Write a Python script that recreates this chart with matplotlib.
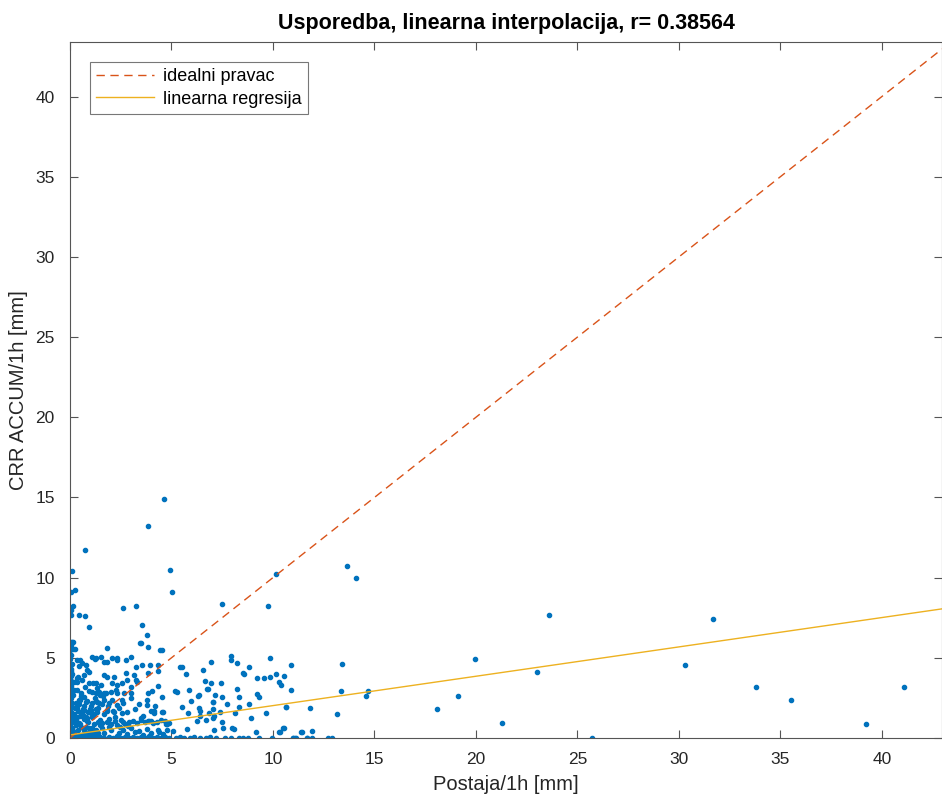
import matplotlib
matplotlib.use("Agg")
import matplotlib.pyplot as plt
import numpy as np

plt.rcParams['font.family'] = ['Liberation Sans', 'DejaVu Sans']

# sparse points, far from the cluster
far_x = [4.65, 3.84, 0.74, 4.94, 5.04, 10.15, 13.65, 14.1, 7.47, 9.74, 2.63, 3.25,
         23.6, 31.7, 19.95, 30.3, 13.4, 33.8, 35.5, 41.1, 39.2, 23.0, 19.1, 18.1, 21.3,
         25.7, 10.9, 13.35, 14.7, 14.6, 11.8, 13.15, 11.4, 11.9, 10.9]
far_y = [14.9, 13.2, 11.7, 10.5, 9.1, 10.2, 10.7, 10.0, 8.36, 8.2, 8.1, 8.2,
         7.67, 7.4, 4.9, 4.55, 4.6, 3.2, 2.4, 3.2, 0.87, 4.1, 2.6, 1.8, 0.94,
         0.0, 4.55, 2.9, 2.9, 2.6, 1.9, 1.5, 0.37, 0.44, 3.0]

# medium density points (x 0 - 11)
mid_x = [0.11, 0.03, 0.25, 0.13, 0.03, 0.03, 0.43, 0.74, 0.94, 3.53, 3.78, 0.13, 0.25,
         1.82, 3.5, 3.43, 3.84, 4.43, 4.51, 2.33, 1.53, 1.25, 7.93, 7.93, 8.24, 9.84,
         6.96, 8.59, 8.82, 6.53, 5.42, 5.53, 5.71, 6.63, 6.93, 7.44, 9.2, 9.54, 9.85,
         10.13, 10.54, 10.3, 10.4, 4.33, 5.19, 5.85, 6.35, 6.73, 7.04, 7.5, 7.73, 8.23,
         8.34, 8.83, 9.33, 10.66, 5.52, 5.83, 6.37, 6.7, 7.1, 7.55, 7.98, 8.93, 9.64,
         10.3, 10.5, 11.45, 5.75, 4.58, 4.74, 3.94, 4.35, 3.86, 4.32, 4.06, 3.82, 5.25,
         6.32, 6.78, 7.14, 4.53, 5.94, 7.06, 3.79, 4.14, 4.14, 4.53, 6.4, 6.86, 7.07,
         7.4, 6.26, 6.42, 7.03, 7.5, 3.97, 3.82, 4.79, 4.35, 5.06, 7.09, 8.54, 8.33,
         8.13, 8.06, 9.15, 10.54, 10.34, 10.62, 9.2, 0.08, 0.16, 0.49, 0.36, 0.6, 0.44,
         0.77, 1.1, 1.26, 0.85, 0.94, 0.69, 0.36, 0.36, 1.67, 1.84, 2.08, 2.33, 2.74,
         2.99, 3.24, 3.56, 1.67, 1.84, 2.17, 2.74, 2.82, 3.15, 3.24, 1.26, 0.94, 2.08,
         2.33, 2.58, 2.99, 3.32, 1.1, 1.26, 1.43, 1.67, 2.0, 2.33, 2.66, 2.99, 0.2,
         0.53, 0.69, 0.44, 0.77, 1.1, 1.35, 1.67, 1.92, 2.33, 2.58, 0.36, 0.69, 1.02,
         1.35, 1.84, 2.17, 2.58, 3.48, 0.36, 0.85]
mid_y = [10.4, 9.1, 9.2, 8.2, 8.0, 7.7, 7.7, 7.6, 6.9, 7.05, 6.4, 6.0, 5.55,
         5.6, 5.9, 5.95, 5.7, 5.5, 5.47, 5.0, 5.05, 4.9, 5.1, 4.87, 4.66, 4.97,
         4.75, 4.0, 4.4, 4.24, 4.4, 4.4, 3.97, 3.57, 3.45, 3.4, 3.74, 3.76, 3.8,
         4.0, 3.85, 3.5, 3.3, 3.24, 2.9, 3.0, 2.7, 3.08, 2.23, 2.56, 2.14, 3.08,
         2.56, 2.14, 2.58, 1.93, 1.91, 1.54, 1.87, 1.12, 1.35, 0.6, 0.6, 1.25, 1.58,
         0.37, 0.6, 0.36, 0.54, 1.64, 0.85, 4.53, 4.53, 4.03, 4.2, 2.91, 2.83, 2.87,
         2.64, 3.04, 2.68, 2.58, 2.33, 2.23, 2.06, 1.7, 1.54, 1.62, 1.68, 1.53, 1.78,
         1.6, 1.08, 1.37, 1.27, 1.02, 1.06, 1.06, 0.87, 0.5, 0.44, 0.52, 4.03, 1.95,
         1.54, 0.58, 0.37, 0.6, 0.37, 1.95, 2.74, 5.97, 5.53, 4.87, 4.87, 4.66, 4.5,
         4.55, 5.07, 4.97, 4.24, 4.14, 3.93, 3.72, 3.51, 4.76, 4.76, 4.97, 4.87, 4.87,
         5.07, 4.45, 4.55, 3.93, 3.82, 3.82, 4.03, 3.62, 3.93, 3.62, 3.41, 3.41, 3.41,
         3.3, 3.41, 3.2, 3.51, 2.89, 2.79, 2.89, 2.79, 2.89, 2.79, 2.79, 2.79, 3.0,
         2.79, 2.58, 2.37, 2.26, 2.16, 2.26, 2.37, 2.16, 2.06, 2.37, 1.85, 1.75, 1.75,
         1.64, 1.75, 1.64, 1.54, 1.23, 1.33, 1.23]

# dense cluster near the origin
blob_x = [0.2, 0.4, 0.6, 0.8, 1.0, 1.2, 1.4, 1.6, 1.8, 2.0,
          0.3, 0.5, 0.7, 0.9, 1.1, 1.3, 1.5, 1.7, 1.9, 2.1,
          0.25, 0.45, 0.65, 0.85, 1.05, 1.25, 1.45, 1.65, 1.85, 2.05,
          0.15, 0.35, 0.55, 0.75, 0.95, 1.15, 1.35, 1.55, 1.75, 2.25,
          2.3, 2.5, 2.7, 2.9, 3.1, 3.3, 3.5, 3.7, 3.9, 4.1, 4.3, 4.5, 4.7, 4.9,
          2.4, 2.6, 2.8, 3.0, 3.2, 3.4, 3.6, 3.8, 4.0, 4.2,
          0.1, 0.3, 0.5, 0.7, 0.9, 1.1, 1.3, 1.5, 1.7, 1.9,
          0.2, 0.4, 0.6, 0.8, 1.0, 1.2, 1.4, 1.6, 1.8, 2.2,
          2.4, 2.6, 2.8, 3.0, 3.2, 3.4, 3.6, 3.8, 4.0, 4.4, 4.6, 4.8,
          1.4, 1.6, 2.0, 2.2, 2.6, 1.2, 0.9, 0.55, 2.45, 2.85,
          0.15, 0.35, 0.55, 0.75, 0.95, 1.15, 0.25, 0.45, 0.65, 0.85,
          1.05, 0.3, 0.5, 0.7, 0.2, 0.4, 0.6, 1.3, 1.5, 0.1]
blob_y = [0.3, 0.5, 0.2, 0.7, 0.4, 0.9, 0.3, 0.6, 1.0, 0.5,
          1.1, 1.4, 1.2, 1.6, 1.3, 1.8, 1.1, 1.5, 1.2, 1.7,
          1.9, 2.1, 1.8, 2.3, 2.0, 2.5, 2.2, 2.6, 2.0, 2.4,
          2.7, 3.0, 2.6, 3.2, 2.9, 3.4, 3.1, 3.3, 2.8, 3.0,
          0.8, 1.1, 0.9, 1.0, 1.05, 0.95, 1.1, 1.0, 1.05, 0.95, 1.0, 1.1, 1.05, 0.95,
          1.9, 2.2, 1.6, 2.5, 1.8, 2.1, 1.4, 2.4, 1.7, 2.0,
          0.6, 0.8, 0.9, 0.5, 1.0, 0.6, 0.5, 0.8, 0.3, 0.7,
          1.5, 1.7, 1.6, 1.3, 1.8, 1.5, 1.9, 2.1, 1.7, 1.3,
          0.3, 0.5, 0.25, 0.6, 0.35, 0.45, 0.2, 0.55, 0.3, 0.4, 0.25, 0.5,
          1.0, 0.95, 0.9, 1.05, 1.0, 0.15, 0.25, 0.2, 0.7, 0.75,
          0.45, 0.15, 0.7, 0.35, 0.6, 0.25, 1.25, 0.95, 1.45, 1.05,
          1.55, 2.2, 2.4, 2.0, 3.5, 3.8, 3.6, 2.3, 2.7, 1.4]

# column of points at x ~ 0
col_x = [0.02, 0.05, 0.0, 0.1, 0.03, 0.07, 0.01, 0.12, 0.04, 0.08, 0.0, 0.06,
         0.02, 0.09, 0.03, 0.11, 0.0, 0.05, 0.02, 0.07, 0.04, 0.0, 0.08, 0.03,
         0.1, 0.01, 0.06, 0.02, 0.09, 0.0, 0.04, 0.07, 0.03, 0.05]
col_y = [0.2, 0.5, 0.8, 1.0, 1.3, 1.6, 1.9, 2.2, 2.5, 2.8, 3.1, 3.4,
         3.7, 4.0, 4.3, 4.6, 4.9, 5.2, 5.5, 5.8, 6.0, 0.35, 0.65, 1.15,
         1.45, 1.75, 2.05, 2.35, 2.65, 2.95, 3.25, 3.55, 3.85, 4.15]

# row of points at y ~ 0
row_x = [0.1, 0.3, 0.5, 0.7, 0.9, 1.1, 1.3, 1.5, 1.7, 1.9, 2.1, 2.3, 2.5, 2.7,
         2.9, 3.1, 3.3, 3.5, 3.7, 3.9, 4.1, 4.3, 4.5, 4.7, 4.9, 5.2, 5.4, 5.6,
         5.9, 6.1, 6.4, 6.7, 6.9, 7.2, 7.64, 7.93, 8.33, 8.54, 8.75, 9.94, 11.0,
         11.12, 11.66, 10.97, 11.1, 11.7, 11.9, 12.7, 12.9, 9.3]
row_y = [0.0, 0.05, 0.0, 0.1, 0.0, 0.05, 0.0, 0.08, 0.0, 0.05, 0.0, 0.1, 0.0, 0.05,
         0.0, 0.08, 0.0, 0.05, 0.0, 0.1, 0.0, 0.05, 0.0, 0.08, 0.0, 0.0, 0.05, 0.0,
         0.0, 0.05, 0.0, 0.0, 0.05, 0.0, 0.0, 0.0, 0.0, 0.0, 0.0, 0.0, 0.0,
         0.0, 0.0, 0.0, 0.0, 0.0, 0.0, 0.0, 0.0, 0.0]

reg_intercept = 0.19
reg_slope = 0.183
x_max = 42.96
y_max = 43.4

xs = np.array(far_x + mid_x + blob_x + col_x + row_x)
ys = np.array(far_y + mid_y + blob_y + col_y + row_y)

fig = plt.figure(figsize=(9.42, 7.98), dpi=100)
ax = fig.add_axes([0.0743, 0.0752, 0.9257, 0.8722])

ax.plot(xs, ys, '.', color='#0072BD', markersize=6, linestyle='none')
line_x = np.array([0, x_max])
ax.plot(line_x, line_x, color='#D95319', lw=1.0, dashes=(6, 4),
        label='idealni pravac')
ax.plot(line_x, reg_intercept + reg_slope * line_x, '-', color='#EDB120', lw=1.0,
        label='linearna regresija')

ax.set_xlim(0, x_max)
ax.set_ylim(0, y_max)
ax.set_xticks(np.arange(0, 45, 5))
ax.set_yticks(np.arange(0, 45, 5))
ax.tick_params(direction='in', top=True, right=True, labelsize=12.5,
               colors='#555555', labelcolor='#262626', length=6, width=0.8)
ax.tick_params(axis='x', pad=10)
ax.tick_params(axis='y', pad=11)
for s in ax.spines.values():
    s.set_color('#555555')
    s.set_linewidth(0.8)

ax.set_xlabel('Postaja/1h [mm]', fontsize=14.5, color='#262626', labelpad=6)
ax.set_ylabel('CRR ACCUM/1h [mm]', fontsize=14.5, color='#262626', labelpad=5)
ax.set_title('Usporedba, linearna interpolacija, r= 0.38564', fontsize=15.5,
             fontweight='bold', pad=9)

leg = ax.legend(loc='upper left', fontsize=13, frameon=True, fancybox=False,
                edgecolor='#555555', borderaxespad=1.1, handlelength=3.2,
                borderpad=0.35, labelspacing=0.3, handletextpad=0.5)
leg.get_frame().set_linewidth(0.8)

fig.savefig('out.png', dpi=100)
